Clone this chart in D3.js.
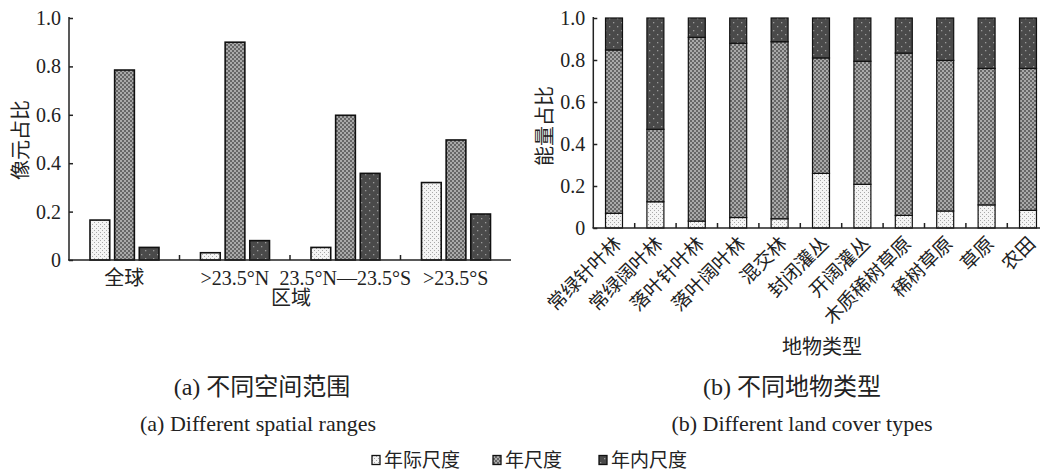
<!DOCTYPE html>
<html>
<head>
<meta charset="utf-8">
<script src="https://cdn.jsdelivr.net/npm/d3@7"></script>
<style>
  body { margin: 0; background: #fff; }
  svg text { font-family: "Liberation Serif", "Noto Sans CJK SC", serif; fill: #222; }
  .axis path, .axis line { stroke: #222; stroke-width: 1.5; }
</style>
</head>
<body>
<div id="chart"></div>
<script>
"use strict";

// ---- data ----
var series = ["年际尺度", "年尺度", "年内尺度"];
var series_fill = ["url(#p_inter)", "url(#p_annual)", "url(#p_intra)"];

// (a) pixel share per spatial range
var regions = ["全球", ">23.5°N", "23.5°N—23.5°S", ">23.5°S"];
var region_inter = [0.165, 0.03, 0.052, 0.32];
var region_annual = [0.785, 0.90, 0.598, 0.496];
var region_intra = [0.052, 0.08, 0.358, 0.19];

// (b) energy share per land cover type (stacked)
var covers = ["常绿针叶林", "常绿阔叶林", "落叶针叶林", "落叶阔叶林", "混交林",
    "封闭灌丛", "开阔灌丛", "木质稀树草原", "稀树草原", "草原", "农田"];
var cover_inter = [0.07, 0.125, 0.033, 0.05, 0.044, 0.26, 0.208, 0.06, 0.081, 0.11, 0.084];
var cover_annual = [0.778, 0.345, 0.875, 0.83, 0.843, 0.55, 0.586, 0.773, 0.717, 0.65, 0.676];
var cover_intra = [0.152, 0.53, 0.092, 0.12, 0.113, 0.19, 0.206, 0.167, 0.202, 0.24, 0.24];

var y_ticks = [0, 0.2, 0.4, 0.6, 0.8, 1.0];

var width = 1040, height = 471;
var svg = d3.select("#chart").append("svg")
    .attr("width", width)
    .attr("height", height);

// ---- fill patterns ----
var defs = svg.append("defs");

function add_pattern(id, size, bg, dots, dot_color, dot_size) {
    var p = defs.append("pattern")
        .attr("id", id)
        .attr("patternUnits", "userSpaceOnUse")
        .attr("width", size)
        .attr("height", size);
    p.append("rect").attr("width", size).attr("height", size).attr("fill", bg);
    dots.forEach(function(d) {
        p.append("rect")
            .attr("x", d[0]).attr("y", d[1])
            .attr("width", dot_size).attr("height", dot_size)
            .attr("fill", dot_color);
    });
}
add_pattern("p_inter", 4, "#f4f4f4", [[0, 0], [2, 2]], "#a8a8a8", 1);
add_pattern("p_annual", 4, "#666", [[0, 0], [2, 2]], "#a9a9a9", 2);
add_pattern("p_intra", 8, "#4a4a4a", [[1, 2], [5, 6]], "#9a9a9a", 1.3);

function fmt_tick(d) { return d === 0 ? "0" : d3.format(".1f")(d); }

// ---- (a) grouped bars ----
var ya = d3.scaleLinear().domain([0, 1]).range([260, 18]);
var xa = d3.scaleBand().domain(regions).range([69, 511]);
var xa_inner = d3.scaleBand().domain(series).range([21, 90]).paddingInner(0.2);
var a_values = [region_inter, region_annual, region_intra];

var ga = svg.append("g");
series.forEach(function(s, si) {
    ga.selectAll("rect.s" + si)
        .data(regions)
        .enter()
        .append("rect")
        .attr("class", "s" + si)
        .attr("x", function(d) { return xa(d) + xa_inner(s); })
        .attr("y", function(d, i) { return ya(a_values[si][i]); })
        .attr("width", xa_inner.bandwidth())
        .attr("height", function(d, i) { return ya(0) - ya(a_values[si][i]); })
        .attr("fill", series_fill[si])
        .attr("stroke", "#111")
        .attr("stroke-width", 1.6);
});

var ya_axis = svg.append("g").attr("class", "axis")
    .attr("transform", "translate(69,0)")
    .call(d3.axisLeft(ya).tickValues(y_ticks).tickFormat(fmt_tick).tickSize(-4).tickPadding(8));
ya_axis.select(".domain").attr("d", "M0,260V17");
ya_axis.selectAll("text").attr("font-size", 20);

var xa_axis = svg.append("g").attr("class", "axis")
    .attr("transform", "translate(0,260)");
xa_axis.append("line").attr("x1", 68).attr("x2", 511);
xa_axis.selectAll("line.tk")
    .data(regions.slice(1))
    .enter()
    .append("line")
    .attr("class", "tk")
    .attr("x1", function(d) { return xa(d); })
    .attr("x2", function(d) { return xa(d); })
    .attr("y1", 0).attr("y2", -5);
svg.selectAll("text.xa")
    .data(regions)
    .enter()
    .append("text")
    .attr("class", "xa")
    .attr("x", function(d) { return xa(d) + xa.bandwidth() / 2; })
    .attr("y", 278)
    .attr("dy", "0.35em")
    .attr("text-anchor", "middle")
    .attr("font-size", 20)
    .text(function(d) { return d; });

svg.append("text")
    .attr("x", 291).attr("y", 298).attr("dy", "0.35em")
    .attr("text-anchor", "middle").attr("font-size", 20)
    .text("区域");
svg.append("text")
    .attr("transform", "translate(21,140) rotate(-90)")
    .attr("dy", "0.35em")
    .attr("text-anchor", "middle").attr("font-size", 20)
    .text("像元占比");

// ---- (b) stacked bars ----
var yb = d3.scaleLinear().domain([0, 1]).range([228, 18]);
var xb = d3.scaleBand().domain(covers).range([593.3, 1048.7])
    .paddingInner(0.59).paddingOuter(0.295);

var b_rows = covers.map(function(c, i) {
    return { cover: c, "年际尺度": cover_inter[i], "年尺度": cover_annual[i], "年内尺度": cover_intra[i] };
});
var stack = d3.stack().keys(series)(b_rows);

var gb = svg.append("g");
stack.forEach(function(layer, si) {
    gb.selectAll("rect.l" + si)
        .data(layer)
        .enter()
        .append("rect")
        .attr("class", "l" + si)
        .attr("x", function(d) { return xb(d.data.cover); })
        .attr("y", function(d) { return yb(d[1]); })
        .attr("width", xb.bandwidth())
        .attr("height", function(d) { return yb(d[0]) - yb(d[1]); })
        .attr("fill", series_fill[si])
        .attr("stroke", "#111")
        .attr("stroke-width", 1.2);
});

var yb_axis = svg.append("g").attr("class", "axis")
    .attr("transform", "translate(593.3,0)")
    .call(d3.axisLeft(yb).tickValues(y_ticks).tickFormat(fmt_tick).tickSize(-4).tickPadding(8));
yb_axis.select(".domain").attr("d", "M0,228V17");
yb_axis.selectAll("text").attr("font-size", 20);

var xb_axis = svg.append("g").attr("class", "axis")
    .attr("transform", "translate(0,228)");
xb_axis.append("line").attr("x1", 592.5).attr("x2", 1048);
xb_axis.selectAll("line.tk")
    .data(covers.slice(1))
    .enter()
    .append("line")
    .attr("class", "tk")
    .attr("x1", function(d) { return xb(d) - xb.step() * 0.295; })
    .attr("x2", function(d) { return xb(d) - xb.step() * 0.295; })
    .attr("y1", 0).attr("y2", -5);

svg.selectAll("text.xb")
    .data(covers)
    .enter()
    .append("text")
    .attr("class", "xb")
    .attr("transform", function(d) {
        return "translate(" + (xb(d) + xb.bandwidth() / 2 + 4) + ",240) rotate(-45)";
    })
    .attr("dy", "0.35em")
    .attr("text-anchor", "end")
    .attr("font-size", 19)
    .text(function(d) { return d; });

svg.append("text")
    .attr("x", 822).attr("y", 347).attr("dy", "0.35em")
    .attr("text-anchor", "middle").attr("font-size", 20)
    .text("地物类型");
svg.append("text")
    .attr("transform", "translate(545,126) rotate(-90)")
    .attr("dy", "0.35em")
    .attr("text-anchor", "middle").attr("font-size", 20)
    .text("能量占比");

// ---- captions ----
var captions = [
    { x: 262, y: 387, size: 24, text: "(a) 不同空间范围" },
    { x: 258, y: 423, size: 22, text: "(a) Different spatial ranges" },
    { x: 792, y: 387, size: 24, text: "(b) 不同地物类型" },
    { x: 802, y: 423, size: 22, text: "(b) Different land cover types" }
];
svg.selectAll("text.cap")
    .data(captions)
    .enter()
    .append("text")
    .attr("class", "cap")
    .attr("x", function(d) { return d.x; })
    .attr("y", function(d) { return d.y; })
    .attr("dy", "0.35em")
    .attr("text-anchor", "middle")
    .attr("font-size", function(d) { return d.size; })
    .text(function(d) { return d.text; });

// ---- legend ----
var legend_x = [372, 493, 599];
var lg = svg.selectAll("g.lg")
    .data(series)
    .enter()
    .append("g")
    .attr("class", "lg")
    .attr("transform", function(d, i) { return "translate(" + legend_x[i] + ",460)"; });
lg.append("rect")
    .attr("x", 0).attr("y", -4.5)
    .attr("width", 8).attr("height", 9)
    .attr("fill", function(d, i) { return series_fill[i]; })
    .attr("stroke", "#111").attr("stroke-width", 1.3);
lg.append("text")
    .attr("x", 12).attr("dy", "0.35em")
    .attr("font-size", 19)
    .text(function(d) { return d; });
</script>
</body>
</html>
